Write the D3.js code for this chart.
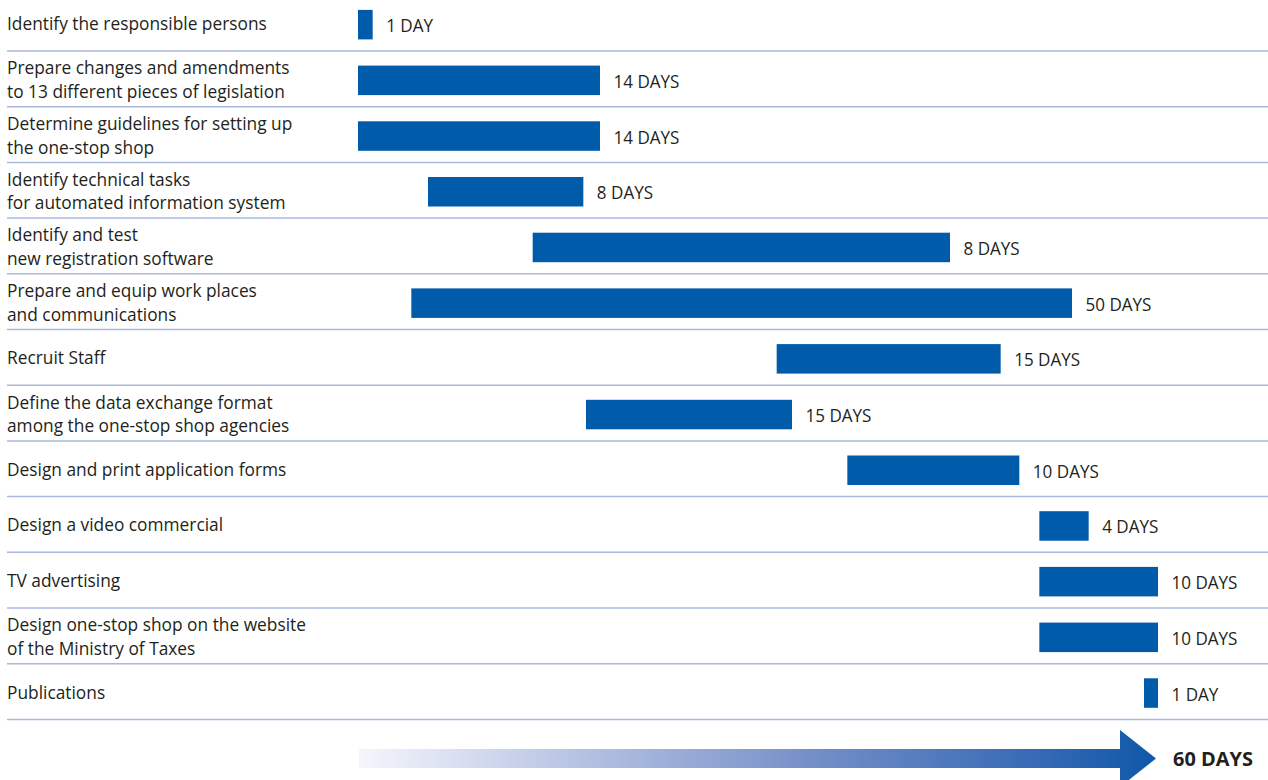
<!DOCTYPE html>
<html><head><meta charset="utf-8">
<script src="https://cdn.jsdelivr.net/npm/d3@7"></script>
<style>html,body{margin:0;padding:0;background:#fff;} svg{display:block}</style>
</head><body>
<svg id="chart" width="1268" height="780"></svg>
<script>
const tasks = [
  "Identify the responsible persons",
  "Prepare changes and amendments\nto 13 different pieces of legislation",
  "Determine guidelines for setting up\nthe one-stop shop",
  "Identify technical tasks\nfor automated information system",
  "Identify and test\nnew registration software",
  "Prepare and equip work places\nand communications",
  "Recruit Staff",
  "Define the data exchange format\namong the one-stop shop agencies",
  "Design and print application forms",
  "Design a video commercial",
  "TV advertising",
  "Design one-stop shop on the website\nof the Ministry of Taxes",
  "Publications"
];
const startDay = [0, 0, 0, 5.25, 13.1, 4.0, 31.4, 17.1, 36.7, 51.1, 51.1, 51.1, 58.95];
const endDay   = [1.1, 18.15, 18.15, 16.9, 44.4, 53.55, 48.2, 32.55, 49.6, 54.8, 60, 60, 60];
const durationLabels = ["1 DAY","14 DAYS","14 DAYS","8 DAYS","8 DAYS","50 DAYS","15 DAYS","15 DAYS","10 DAYS","4 DAYS","10 DAYS","10 DAYS","1 DAY"];
const totalDays = 60;
const totalLabel = "60 DAYS";

const W = 1268, H = 780;
const FONT = "'Open Sans', 'Noto Sans', sans-serif";
const TEXT = "#231f20", BAR = "#005bab", RULE = "#a9b8df";

const svg = d3.select("#chart");
const x = d3.scaleLinear().domain([0, totalDays]).range([358, 1158]);
const y = d3.scaleBand().domain(d3.range(tasks.length)).range([-4.7, 719.4]).padding(0);
const step = y.step();
const barH = 29.5;
const rowC = i => y(i) + step / 2;

// measure to emulate a condensed face
function measure(str, size, weight) {
  const t = svg.append("text").attr("font-family", FONT).attr("font-size", size)
    .attr("font-weight", weight || 400).text(str);
  const w = t.node().getComputedTextLength(); t.remove(); return w;
}
const sxLab = 260 / measure("Identify the responsible persons", 19);
const sxVal = 66 / measure("14 DAYS", 19);
const sxTot = 80 / measure(totalLabel, 19.5, 700);

// separators
svg.append("g").selectAll("line").data(tasks).join("line")
  .attr("x1", 7).attr("x2", W)
  .attr("y1", (d, i) => y(i) + step).attr("y2", (d, i) => y(i) + step)
  .attr("stroke", RULE).attr("stroke-width", 1.5);

// task labels
const lab = svg.append("g").selectAll("text").data(tasks).join("text")
  .attr("transform", (d, i) => `translate(7,0) scale(${sxLab},1)`)
  .attr("font-family", FONT).attr("font-size", 19).attr("fill", TEXT);
lab.each(function (d, i) {
  const lines = d.split("\n");
  const base = lines.length === 1 ? [rowC(i) + 7] : [rowC(i) - 4.5, rowC(i) + 19.2];
  d3.select(this).selectAll("tspan").data(lines).join("tspan")
    .attr("x", 0).attr("y", (l, k) => base[k]).text(l => l);
});

// bars
svg.append("g").selectAll("rect").data(tasks).join("rect")
  .attr("x", (d, i) => x(startDay[i]))
  .attr("width", (d, i) => x(endDay[i]) - x(startDay[i]))
  .attr("y", (d, i) => rowC(i) + 1.5 - barH / 2)
  .attr("height", barH).attr("fill", BAR);

// duration labels
svg.append("g").selectAll("text").data(durationLabels).join("text")
  .attr("transform", (d, i) => `translate(${x(endDay[i]) + 13.5},${rowC(i) + 9}) scale(${sxVal},1)`)
  .attr("font-family", FONT).attr("font-size", 19).attr("fill", TEXT)
  .text(d => d);

// timeline arrow
const defs = svg.append("defs");
const x0 = x(0) + 1, tip = x(totalDays) - 2, headBase = tip - 36;
const grad = defs.append("linearGradient").attr("id", "arrowGrad")
  .attr("gradientUnits", "userSpaceOnUse").attr("x1", x0).attr("x2", tip).attr("y1", 0).attr("y2", 0);
[[0, "#f5f6fc"], [0.3, "#b1bee0"], [0.6, "#6d8ac5"], [0.88, "#2f66b3"], [1, "#0f58a8"]]
  .forEach(([o, c]) => grad.append("stop").attr("offset", o).attr("stop-color", c));
const ay = 758.5;
svg.append("path")
  .attr("d", d3.line()([[x0, ay - 9.5], [headBase, ay - 9.5], [headBase, ay - 28.5], [tip, ay],
    [headBase, ay + 28.5], [headBase, ay + 9.5], [x0, ay + 9.5]]) + "Z")
  .attr("fill", "url(#arrowGrad)");
svg.append("text")
  .attr("transform", `translate(${tip + 17},766) scale(${sxTot},1)`)
  .attr("font-family", FONT).attr("font-size", 19.5).attr("font-weight", 700).attr("fill", TEXT)
  .text(totalLabel);
</script>
</body></html>
